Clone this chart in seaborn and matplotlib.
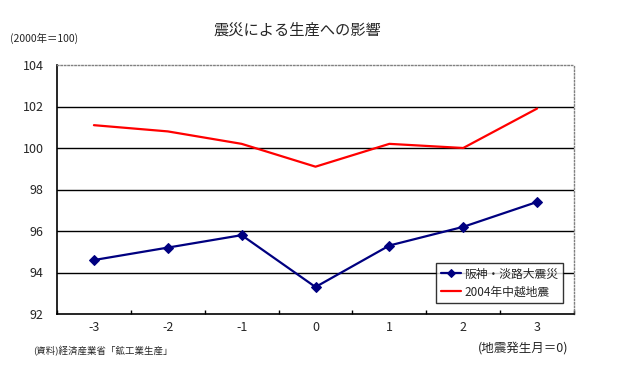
import pandas as pd
import numpy as np
import matplotlib
matplotlib.use('Agg')
import matplotlib.pyplot as plt
import seaborn as sns

# data
months = [-3, -2, -1, 0, 1, 2, 3]
hanshin = [94.6, 95.2, 95.8, 93.3, 95.3, 96.2, 97.4]
chuetsu = [101.1, 100.8, 100.2, 99.1, 100.2, 100.0, 101.9]
series_names = ['阪神・淡路大震災', '2004年中越地震']

pos = list(range(len(months)))

sns.set_style('white')
plt.rcParams['font.family'] = ['Noto Sans CJK JP', 'DejaVu Sans']

fig = plt.figure(figsize=(6.19, 3.75), dpi=100)
ax = fig.add_axes([57 / 619, 1 - 314 / 375, 517 / 619, 249 / 375])

sns.lineplot(x=pos, y=hanshin, color='#000080', marker='D', markersize=5,
             markeredgecolor='#000080', linewidth=1.6, label=series_names[0], ax=ax)
sns.lineplot(x=pos, y=chuetsu, color='#ff0000', linewidth=1.6,
             label=series_names[1], ax=ax)

ax.set_xlim(-0.5, 6.5)
ax.set_ylim(92, 104)
ax.set_yticks(np.arange(92, 105, 2))
ax.set_yticklabels([str(v) for v in range(92, 105, 2)], fontsize=9)
ax.set_xticks(pos)
ax.set_xticklabels([str(m) for m in months], fontsize=9)
ax.set_xticks(np.arange(-0.5, 7, 1), minor=True)
ax.tick_params(axis='x', which='major', bottom=False, length=0, pad=5)
ax.tick_params(axis='x', which='minor', bottom=True, length=3, direction='in', width=1, color='black')
ax.tick_params(axis='y', left=False, pad=6)
ax.set_xlabel('')
ax.set_ylabel('')

for y in range(94, 103, 2):
    ax.axhline(y, color='black', linewidth=1, zorder=0)

for side in ['left', 'bottom']:
    ax.spines[side].set_color('black')
    ax.spines[side].set_linewidth(1.2)
for side in ['top', 'right']:
    ax.spines[side].set_color('#808080')
    ax.spines[side].set_linestyle((0, (1, 1.5)))
    ax.spines[side].set_linewidth(1)

leg = ax.legend(loc='lower right', bbox_to_anchor=(0.979, 0.044), borderaxespad=0,
                fontsize=8.5, frameon=True, fancybox=False, edgecolor='black',
                handlelength=1.7, handletextpad=0.3, borderpad=0.4, labelspacing=0.4,
                markerscale=0.8)
leg.get_frame().set_linewidth(1)

fig.text(297 / 619, 1 - 30 / 375, '震災による生産への影響', ha='center', va='center', fontsize=11)
fig.text(10 / 619, 1 - 38 / 375, '(2000年＝100)', ha='left', va='center', fontsize=7.5)
fig.text(33 / 619, 1 - 351 / 375, '(資料)経済産業省「鉱工業生産」', ha='left', va='center', fontsize=6.8)
fig.text(478 / 619, 1 - 348 / 375, '(地震発生月＝0)', ha='left', va='center', fontsize=9)

fig.savefig('out.png', dpi=100)
